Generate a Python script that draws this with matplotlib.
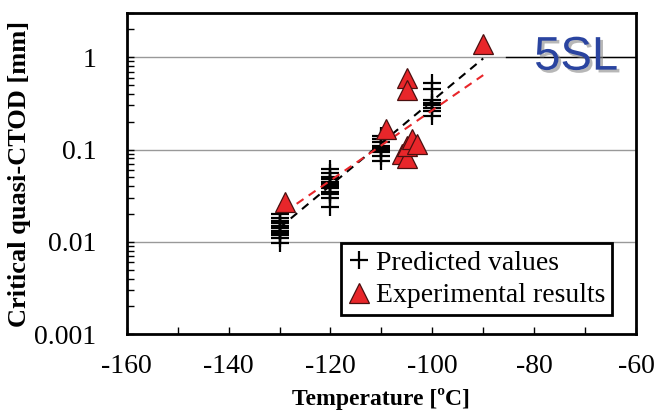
import numpy as np
import matplotlib.pyplot as plt
import matplotlib.ticker as ticker
import matplotlib.patheffects as pe

# Predicted values (+) at each test temperature
pred_temp = [-130] * 11 + [-120] * 12 + [-110] * 9 + [-100] * 8
pred_ctod = [0.0098, 0.011, 0.012, 0.0125, 0.013, 0.014, 0.015, 0.016, 0.017, 0.018, 0.02,
             0.024, 0.03, 0.033, 0.035, 0.038, 0.04, 0.042, 0.045, 0.048, 0.05, 0.055, 0.062,
             0.075, 0.085, 0.095, 0.1, 0.105, 0.11, 0.12, 0.13, 0.14,
             0.23, 0.26, 0.28, 0.3, 0.32, 0.34, 0.45, 0.52]

# Experimental results (triangles)
exp_temp = [-129, -109, -105, -105, -106, -105, -105, -104, -103, -90]
exp_ctod = [0.027, 0.165, 0.6, 0.44, 0.09, 0.08, 0.11, 0.13, 0.115, 1.4]

# Fitted trend lines (end points)
fit_pred_x = [-130, -90]
fit_pred_y = [0.0142, 0.97]
fit_exp_x = [-129, -90]
fit_exp_y = [0.021, 0.64]

plt.rcParams['font.family'] = ['Liberation Serif', 'DejaVu Serif']
plt.rcParams['axes.unicode_minus'] = False

fig = plt.figure(figsize=(6.57, 4.12), dpi=100)
ax = fig.add_axes([0.193, 0.189, 0.775, 0.779])

ax.set_yscale('log')
ax.set_xlim(-160, -60)
ax.set_ylim(0.001, 3)

# grid lines at decades
for g in [0.01, 0.1, 1]:
    ax.axhline(g, color='#999999', lw=1.0, zorder=0)
ax.axhline(1, xmin=0.745, xmax=1, color='black', lw=1.0, zorder=1)

ax.plot(fit_pred_x, fit_pred_y, color='black', ls=(0, (4, 3)), lw=1.5, zorder=3)
ax.plot(fit_exp_x, fit_exp_y, color='#e8262a', ls=(0, (4, 3)), lw=1.5, zorder=3)

ax.plot(pred_temp, pred_ctod, ls='none', marker='+', ms=13, mew=1.6, color='black',
        label='Predicted values', zorder=2)
ax.plot(exp_temp, exp_ctod, ls='none', marker='^', ms=14, mfc='#e8262a', mec='#4a1010',
        mew=0.9, label='Experimental results', zorder=4)

# ticks
ax.xaxis.set_major_locator(ticker.MultipleLocator(20))
ax.xaxis.set_minor_locator(ticker.MultipleLocator(10))
ax.yaxis.set_major_locator(ticker.FixedLocator([0.001, 0.01, 0.1, 1]))
ax.yaxis.set_major_formatter(ticker.FixedFormatter(['0.001', '0.01', '0.1', '1']))
ax.yaxis.set_minor_locator(ticker.LogLocator(base=10, subs=np.arange(2, 10)))
ax.yaxis.set_minor_formatter(ticker.NullFormatter())
ax.tick_params(which='both', direction='in', length=5, width=1, labelsize=20,
               top=False, right=False)
ax.tick_params(axis='x', pad=14)
ax.tick_params(axis='y', pad=22)
for s in ax.spines.values():
    s.set_linewidth(2)

ax.set_xlabel('Temperature [ºC]', fontsize=17, fontweight='bold', labelpad=7)
ax.set_ylabel('Critical quasi-CTOD [mm]', fontsize=19, fontweight='bold', labelpad=2)

ax.text(0.965, 0.93, '5SL', transform=ax.transAxes, ha='right', va='top',
        fontsize=34, color='#2a44a0', family='Liberation Sans', zorder=5,
        path_effects=[pe.withSimplePatchShadow(offset=(2, -2), shadow_rgbFace='#888888', alpha=0.6)])

leg = ax.legend(loc='lower right', bbox_to_anchor=(0.953, 0.059), fontsize=20,
                handlelength=0.8, handletextpad=0.2, borderpad=0.25, labelspacing=0.25,
                fancybox=False, framealpha=1, edgecolor='black', borderaxespad=0)
leg.get_frame().set_linewidth(2)
leg.set_zorder(6)

plt.savefig('out.png', dpi=100)
